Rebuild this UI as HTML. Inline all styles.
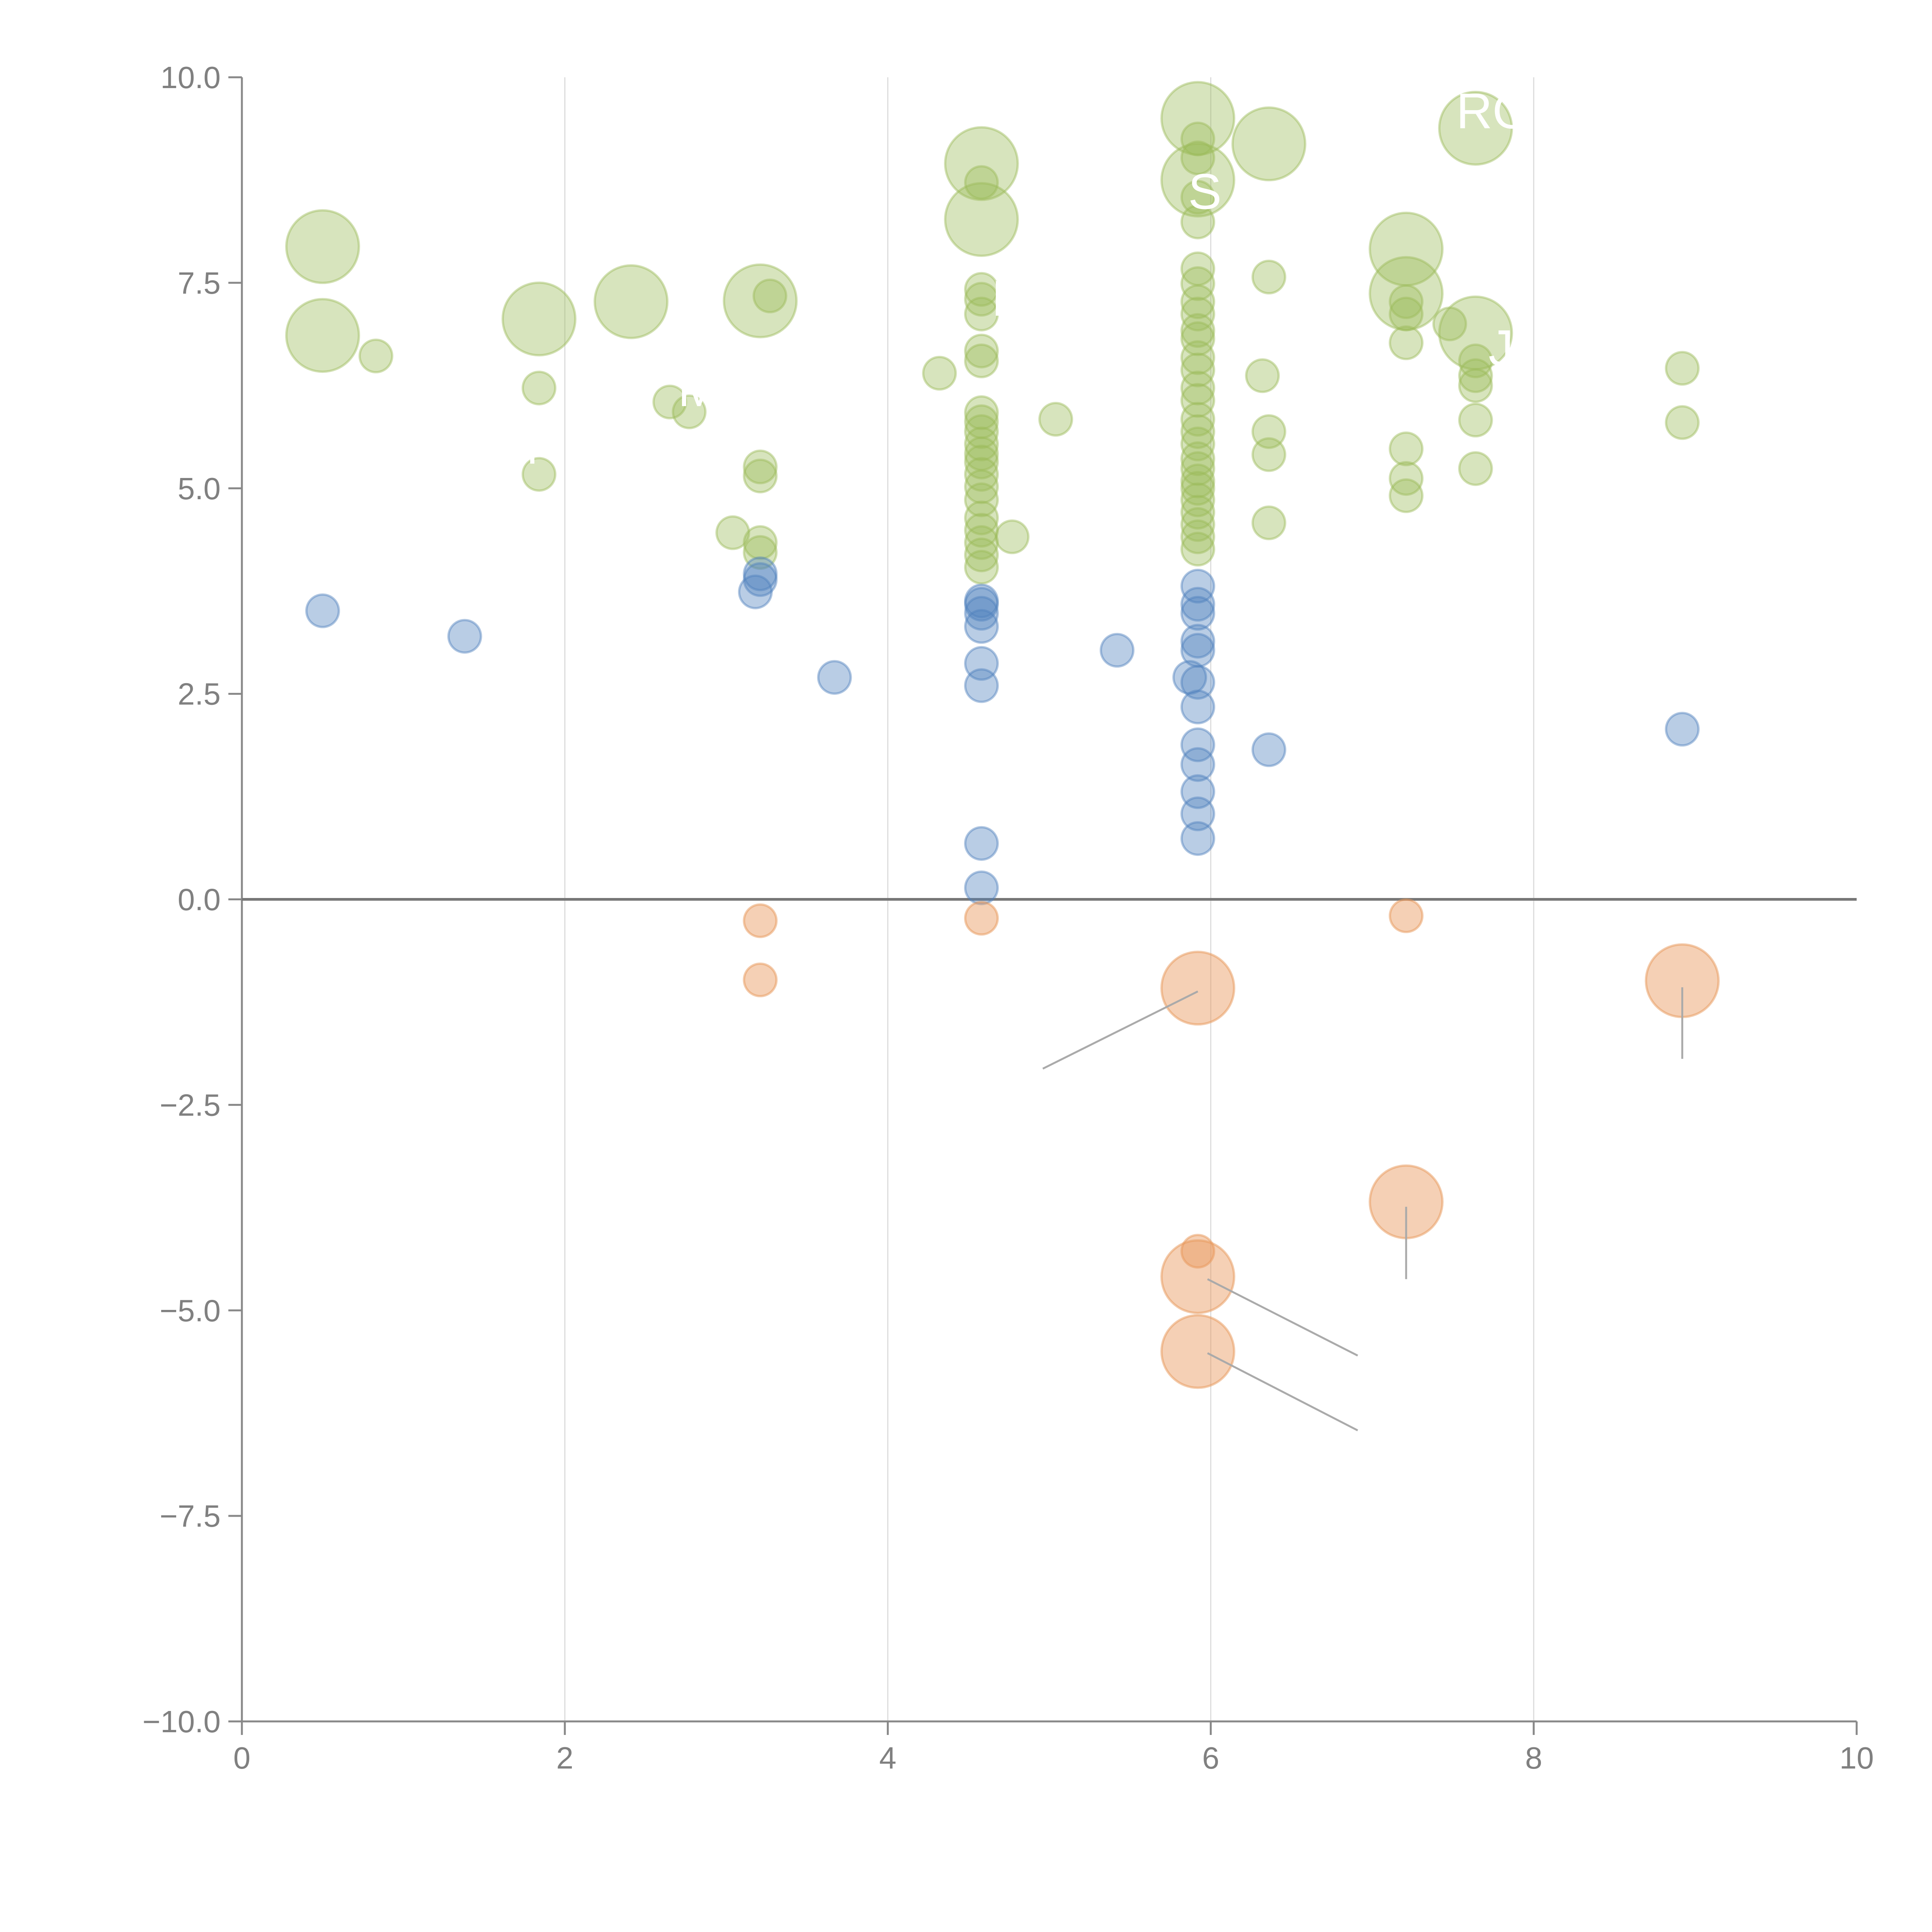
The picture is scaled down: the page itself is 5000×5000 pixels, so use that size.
<!DOCTYPE html>
<html><head><meta charset="utf-8"><style>
html,body{margin:0;padding:0;background:#fff;}
svg{display:block;font-family:"Liberation Sans",sans-serif;}
</style></head><body>
<svg id="chart" width="5000" height="5000" viewBox="0 0 5000 5000" xmlns="http://www.w3.org/2000/svg">
<g id="grid"></g>
<g id="axes"></g>
<g id="marks"></g>
<g id="ann"></g>
</svg>
<script>
const xTicks=[0,2,4,6,8,10];
const yTicks=[10,7.5,5,2.5,0,-2.5,-5,-7.5,-10];
const yTickLabels=["10.0","7.5","5.0","2.5","0.0","\u22122.5","\u22125.0","\u22127.5","\u221210.0"];

const greenX=[0.50,0.50,0.83,1.84,2.41,3.21,3.27,1.84,1.84,2.65,2.77,3.04,3.21,3.21,3.21,3.21,4.32,4.58,4.58,4.58,4.58,4.58,4.58,4.58,4.58,
4.58,4.58,4.58,4.58,4.58,4.58,4.58,4.58,4.58,4.58,4.58,4.58,4.58,4.58,
4.77,5.04,5.92,5.92,5.92,5.92,5.92,5.92,5.92,
5.92,5.92,5.92,5.92,5.92,5.92,5.92,5.92,5.92,5.92,5.92,5.92,5.92,5.92,5.92,5.92,5.92,5.92,5.92,5.92,5.92,
6.36,6.36,6.32,6.36,6.36,6.36,
7.21,7.21,7.21,7.21,7.21,7.21,7.21,7.21,7.48,7.64,7.64,7.64,7.64,7.64,7.64,7.64,8.92,8.92];
const greenY=[7.94,6.86,6.61,7.06,7.27,7.28,7.34,6.22,5.17,6.05,5.93,4.46,5.26,5.15,4.34,4.22,6.40,8.95,8.27,8.72,7.42,7.30,7.12,6.67,6.55,
5.92,5.81,5.69,5.54,5.42,5.32,5.17,5.02,4.86,4.64,4.49,4.34,4.19,4.04,
4.41,5.84,9.50,8.75,9.25,9.02,8.54,8.24,7.67,
7.49,7.27,7.12,6.92,6.82,6.59,6.44,6.22,6.07,5.84,5.69,5.54,5.36,5.24,5.09,4.86,4.71,4.56,4.41,4.26,5.00,
9.19,7.57,6.37,5.69,5.41,4.58,
7.91,7.37,7.27,7.12,6.77,5.48,5.12,4.91,7.00,9.38,6.89,6.55,6.37,6.25,5.83,5.24,6.46,5.80];
const greenSize=[5,5,1,5,5,5,1,1,1,1,1,1,1,1,1,1,1,5,5,1,1,1,1,1,1,
1,1,1,1,1,1,1,1,1,1,1,1,1,1,
1,1,5,5,1,1,1,1,1,
1,1,1,1,1,1,1,1,1,1,1,1,1,1,1,1,1,1,1,1,1,
5,1,1,1,1,1,
5,5,1,1,1,1,1,1,1,5,5,1,1,1,1,1,1,1];

const blueX=[0.50,1.38,3.18,3.21,3.21,3.67,4.58,4.58,4.58,4.58,4.58,4.58,4.58,4.58,5.42,5.87,5.92,5.92,5.92,5.92,5.92,5.92,5.92,5.92,5.92,5.92,5.92,5.92,6.36,8.92];
const blueY=[3.51,3.20,3.74,3.89,3.96,2.70,3.63,3.59,3.48,3.32,2.87,2.60,0.68,0.14,3.03,2.70,3.81,3.59,3.48,3.14,3.03,2.64,2.34,1.88,1.64,1.31,1.04,0.74,1.82,2.07];

const orangeX=[3.21,3.21,4.58,7.21,5.92,8.92,7.21,5.92,5.92,5.92];
const orangeY=[-0.26,-0.98,-0.23,-0.20,-1.08,-0.99,-3.68,-4.28,-4.59,-5.50];
const orangeSize=[1,1,1,1,5,5,5,1,5,5];

const labelText=["RO","S","M","K","J","I","N"];
const labelX=[7.52,5.86,2.70,3.98,7.72,4.64,1.76];
const labelY=[9.38,8.40,6.00,4.40,6.50,7.10,5.30];

const X0=626,X1=4805,Y0=200,Y1=4455;
const sx=v=>X0+(v-0)/(10-0)*(X1-X0);
const sy=v=>Y0+(10-v)/(20)*(Y1-Y0);
const NS="http://www.w3.org/2000/svg";
function mk(tag,parent,attrs){const e=document.createElementNS(NS,tag);for(const k in attrs)e.setAttribute(k,attrs[k]);parent.appendChild(e);return e;}
const grid=document.getElementById('grid'),axes=document.getElementById('axes'),marks=document.getElementById('marks'),ann=document.getElementById('ann');

[2,4,6,8].forEach(v=>{const l=mk('line',grid,{x1:sx(v),x2:sx(v),y1:Y0,y2:Y1,stroke:'#dcdcdc','stroke-width':3});

});

let a=mk('line',axes,{x1:X0,x2:X0,y1:Y0,y2:Y1,stroke:'#888','stroke-width':5});


a=mk('line',axes,{x1:X0,x2:X1,y1:Y1,y2:Y1,stroke:'#888','stroke-width':5});


yTicks.forEach((v,i)=>{
  const t=mk('line',axes,{x1:X0-35,x2:X0,y1:sy(v),y2:sy(v),stroke:'#888','stroke-width':5});
  
  
  const tx=mk('text',axes,{x:X0-55,y:sy(v)+28,'text-anchor':'end','font-size':80,fill:'#808080'});
  tx.textContent=yTickLabels[i];
  
  
});
xTicks.forEach(v=>{
  const t=mk('line',axes,{x1:sx(v),x2:sx(v),y1:Y1,y2:Y1+35,stroke:'#888','stroke-width':5});
  
  
  const tx=mk('text',axes,{x:sx(v),y:Y1+122,'text-anchor':'middle','font-size':80,fill:'#808080'});
  tx.textContent=String(v);
  
  
});
a=mk('line',axes,{x1:X0,x2:X1,y1:sy(0),y2:sy(0),stroke:'#777','stroke-width':7});



const rad=s=>42*Math.sqrt(s);
greenX.forEach((x,i)=>{const c=mk('circle',marks,{cx:sx(x),cy:sy(greenY[i]),r:rad(greenSize[i]),fill:'#9bbb59','fill-opacity':0.4,stroke:'#9bbb59','stroke-opacity':0.45,'stroke-width':6});

});
blueX.forEach((x,i)=>{const c=mk('circle',marks,{cx:sx(x),cy:sy(blueY[i]),r:42,fill:'#4f81bd','fill-opacity':0.4,stroke:'#4f81bd','stroke-opacity':0.45,'stroke-width':6});

});
orangeX.forEach((x,i)=>{const c=mk('circle',marks,{cx:sx(x),cy:sy(orangeY[i]),r:rad(orangeSize[i]),fill:'#e8975a','fill-opacity':0.45,stroke:'#e8975a','stroke-opacity':0.5,'stroke-width':6});

});

const leadX1=[5.92,8.92,7.21,5.98,5.98];
const leadY1=[-1.12,-1.07,-3.74,-4.62,-5.52];
const leadX2=[4.96,8.92,7.21,6.91,6.91];
const leadY2=[-2.06,-1.94,-4.62,-5.55,-6.46];
leadX1.forEach((x,i)=>{const l=mk('line',ann,{x1:sx(x),y1:sy(leadY1[i]),x2:sx(leadX2[i]),y2:sy(leadY2[i]),stroke:'#aaa','stroke-width':5});

});
labelText.forEach((t,i)=>{const tx=mk('text',ann,{x:sx(labelX[i]),y:sy(labelY[i]),'font-size':130,fill:'#ffffff'});
tx.textContent=t;

});
</script>
</body></html>
